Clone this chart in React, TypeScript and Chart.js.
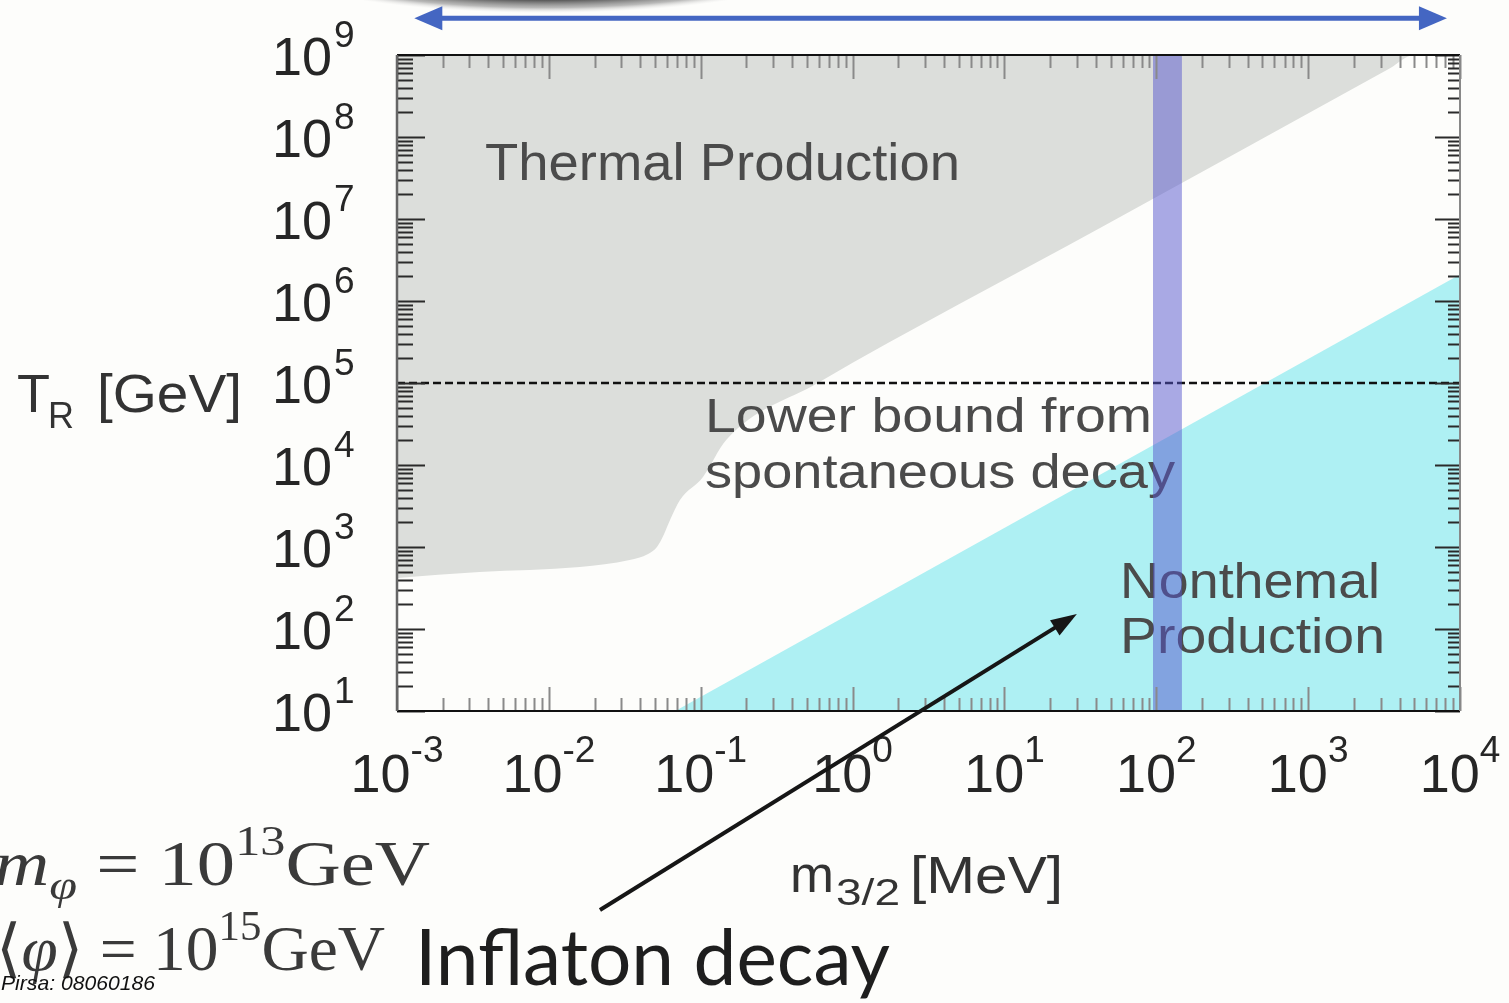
import React, { useEffect, useRef } from 'react';
import { Chart, registerables } from 'chart.js';

Chart.register(...registerables);

// ---- axis ranges & ticks ----
const massRange = [1e-3, 1e4];
const tempRange = [1e1, 1e9];
const xTickExponents = [-3, -2, -1, 0, 1, 2, 3, 4];
const yTickExponents = [1, 2, 3, 4, 5, 6, 7, 8, 9];

// ---- thermal production: lower edge of the gray region (filled up to the top) ----
const thermalMass = [0.001, 0.0035, 0.016, 0.034, 0.045, 0.0515, 0.057, 0.0628, 0.073, 0.1035, 0.147, 0.59, 42.6, 3460, 4980, 10000];
const thermalTemp = [420, 495, 570, 693, 820, 1000, 1400, 2130, 3740, 7150, 20200, 1e5, 7.76e6, 6.9e8, 1e9, 1e9];

// ---- nonthermal production: upper edge of the cyan region (filled down to the bottom) ----
const nonthermalMass = [0.068, 1e4];
const nonthermalTemp = [10, 2.1e6];

// ---- lower bound from spontaneous decay ----
const lowerBoundMass = [1e-3, 1e4];
const lowerBoundTemp = [1e5, 1e5];

// ---- vertical band ----
const bandMass = [95, 95, 147.5, 147.5];
const bandTemp = [10, 1e9, 1e9, 10];

// ---- annotation arrows (data coordinates) ----
const inflatonArrowMass = [0.0217, 30];
const inflatonArrowTemp = [0.0374, 152];
const rangeArrowMass = [1.3e-3, 8.2e3];
const rangeArrowTemp = [2.8e9, 2.8e9];

const SANS = '"Liberation Sans", Arial, sans-serif';
const SERIF = '"Liberation Serif", "DejaVu Serif", serif';

const pts = (xs: number[], ys: number[]) => xs.map((x, i) => ({ x, y: ys[i] }));

type Part = { t: string; f: string; dy?: number };

function drawParts(ctx: CanvasRenderingContext2D, parts: Part[], x: number, y: number, align: 'left' | 'right' | 'center', color: string) {
  const widths = parts.map((p) => {
    ctx.font = p.f;
    return ctx.measureText(p.t).width;
  });
  const total = widths.reduce((a, b) => a + b, 0);
  let cur = align === 'left' ? x : align === 'right' ? x - total : x - total / 2;
  ctx.fillStyle = color;
  ctx.textAlign = 'left';
  ctx.textBaseline = 'alphabetic';
  parts.forEach((p, i) => {
    ctx.font = p.f;
    ctx.fillText(p.t, cur, y + (p.dy || 0));
    cur += widths[i];
  });
}

function fitParts(ctx: CanvasRenderingContext2D, parts: Part[], x0: number, x1: number, y: number, color: string) {
  const widths = parts.map((p) => {
    ctx.font = p.f;
    return ctx.measureText(p.t).width;
  });
  const total = widths.reduce((a, b) => a + b, 0);
  ctx.save();
  ctx.translate(x0, y);
  ctx.scale((x1 - x0) / total, 1);
  drawParts(ctx, parts, 0, 0, 'left', color);
  ctx.restore();
}

function fitText(ctx: CanvasRenderingContext2D, text: string, x: number, y: number, width: number, font: string, color: string) {
  ctx.save();
  ctx.font = font;
  ctx.textAlign = 'left';
  ctx.textBaseline = 'alphabetic';
  const w = ctx.measureText(text).width;
  ctx.translate(x, y);
  ctx.scale(width / w, 1);
  ctx.fillStyle = color;
  ctx.fillText(text, 0, 0);
  ctx.restore();
}

function arrowHead(ctx: CanvasRenderingContext2D, x0: number, y0: number, x1: number, y1: number, len: number, half: number) {
  const a = Math.atan2(y1 - y0, x1 - x0);
  const bx = x1 - len * Math.cos(a);
  const by = y1 - len * Math.sin(a);
  ctx.beginPath();
  ctx.moveTo(x1, y1);
  ctx.lineTo(bx + half * Math.sin(a), by - half * Math.cos(a));
  ctx.lineTo(bx - half * Math.sin(a), by + half * Math.cos(a));
  ctx.closePath();
  ctx.fill();
}

const decorPlugin = {
  id: 'decor',
  beforeDraw(chart: any) {
    const ctx = chart.ctx as CanvasRenderingContext2D;
    ctx.save();
    ctx.fillStyle = '#fdfdfb';
    ctx.fillRect(0, 0, chart.width, chart.height);
    // dark smudge at the top edge
    ctx.translate(545, -32);
    ctx.scale(1, 0.17);
    const g = ctx.createRadialGradient(0, 0, 0, 0, 0, 265);
    g.addColorStop(0, 'rgba(40,40,40,1)');
    g.addColorStop(0.7, 'rgba(70,70,70,0.95)');
    g.addColorStop(0.88, 'rgba(140,140,140,0.6)');
    g.addColorStop(1, 'rgba(220,220,220,0)');
    ctx.fillStyle = g;
    ctx.beginPath();
    ctx.arc(0, 0, 265, 0, Math.PI * 2);
    ctx.fill();
    ctx.restore();
  },
  afterDatasetDraw(chart: any, args: any) {
    if (args.index !== 2) return;
    const ctx = chart.ctx as CanvasRenderingContext2D;
    const col = '#4b4b4b';
    fitText(ctx, 'Thermal Production', 485, 180, 475, `52px ${SANS}`, col);
    fitText(ctx, 'Lower bound from', 705, 432, 447, `49px ${SANS}`, col);
    fitText(ctx, 'spontaneous decay', 705, 488, 470, `49px ${SANS}`, col);
    fitText(ctx, 'Nonthemal', 1120, 598, 260, `50px ${SANS}`, col);
    fitText(ctx, 'Production', 1120, 653, 265, `50px ${SANS}`, col);
  },
  afterDraw(chart: any) {
    const ctx = chart.ctx as CanvasRenderingContext2D;
    const xs = chart.scales.x;
    const ys = chart.scales.y;
    const { left, right, top, bottom } = chart.chartArea;
    ctx.save();

    // ticks (inward)
    ctx.lineWidth = 2;
    for (const e of xTickExponents) {
      for (let k = 1; k <= 9; k++) {
        const v = k * Math.pow(10, e);
        if (v > massRange[1] * 1.0001) break;
        const x = Math.round(xs.getPixelForValue(v)) + 0.5;
        const len = k === 1 ? 24 : 13;
        ctx.strokeStyle = '#8a8a8a';
        ctx.beginPath();
        ctx.moveTo(x, bottom);
        ctx.lineTo(x, bottom - len);
        ctx.moveTo(x, top);
        ctx.lineTo(x, top + len);
        ctx.stroke();
      }
    }
    for (const e of yTickExponents) {
      for (let k = 1; k <= 9; k++) {
        const v = k * Math.pow(10, e);
        if (v > tempRange[1] * 1.0001) break;
        const y = Math.round(ys.getPixelForValue(v)) + 0.5;
        ctx.strokeStyle = '#2a2a2a';
        ctx.beginPath();
        ctx.moveTo(left, y);
        ctx.lineTo(left + (k === 1 ? 28 : 16), y);
        ctx.moveTo(right, y);
        ctx.lineTo(right - (k === 1 ? 25 : 12), y);
        ctx.stroke();
      }
    }

    // frame
    ctx.strokeStyle = '#111';
    ctx.lineWidth = 2;
    ctx.beginPath();
    ctx.moveTo(left, top);
    ctx.lineTo(right, top);
    ctx.moveTo(left, bottom);
    ctx.lineTo(right, bottom);
    ctx.stroke();
    ctx.strokeStyle = '#666';
    ctx.lineWidth = 2.5;
    ctx.beginPath();
    ctx.moveTo(left, top);
    ctx.lineTo(left, bottom);
    ctx.stroke();
    ctx.strokeStyle = '#888';
    ctx.lineWidth = 2;
    ctx.beginPath();
    ctx.moveTo(right, top);
    ctx.lineTo(right, bottom);
    ctx.stroke();

    // tick labels
    const labCol = '#262626';
    for (const e of yTickExponents) {
      const y = ys.getPixelForValue(Math.pow(10, e));
      ctx.font = `54px ${SANS}`;
      ctx.fillStyle = labCol;
      ctx.textAlign = 'right';
      ctx.textBaseline = 'alphabetic';
      ctx.fillText('10', 332, y + 20);
      ctx.font = `37px ${SANS}`;
      ctx.textAlign = 'left';
      ctx.fillText(String(e), 334, y - 8);
    }
    for (const e of xTickExponents) {
      const x = xs.getPixelForValue(Math.pow(10, e));
      drawParts(ctx, [
        { t: '10', f: `54px ${SANS}` },
        { t: String(e), f: `37px ${SANS}`, dy: -30 },
      ], x, 792, 'center', labCol);
    }

    // axis titles
    const titleCol = '#333';
    ctx.font = `54px ${SANS}`;
    ctx.fillStyle = titleCol;
    ctx.textAlign = 'left';
    ctx.fillText('T', 17, 412);
    ctx.font = `36px ${SANS}`;
    ctx.fillText('R', 48, 428);
    fitText(ctx, '[GeV]', 97, 412, 145, `54px ${SANS}`, titleCol);

    fitText(ctx, 'm', 790, 892, 44, `52px ${SANS}`, titleCol);
    fitText(ctx, '3/2', 836, 905, 64, `36px ${SANS}`, titleCol);
    fitText(ctx, '[MeV]', 910, 893, 153, `52px ${SANS}`, titleCol);

    // blue range arrow at the top
    const ax0 = xs.getPixelForValue(rangeArrowMass[0]);
    const ax1 = xs.getPixelForValue(rangeArrowMass[1]);
    const ay = ys.getPixelForValue(rangeArrowTemp[0]);
    ctx.strokeStyle = '#4466c2';
    ctx.fillStyle = '#4466c2';
    ctx.lineWidth = 5;
    ctx.beginPath();
    ctx.moveTo(ax0 + 15, ay);
    ctx.lineTo(ax1 - 15, ay);
    ctx.stroke();
    arrowHead(ctx, ax1, ay, ax0, ay, 28, 12);
    arrowHead(ctx, ax0, ay, ax1, ay, 28, 12);

    // black inflaton arrow
    const bx0 = xs.getPixelForValue(inflatonArrowMass[0]);
    const by0 = ys.getPixelForValue(inflatonArrowTemp[0]);
    const bx1 = xs.getPixelForValue(inflatonArrowMass[1]);
    const by1 = ys.getPixelForValue(inflatonArrowTemp[1]);
    ctx.strokeStyle = '#161616';
    ctx.fillStyle = '#161616';
    ctx.lineWidth = 4;
    const ang = Math.atan2(by1 - by0, bx1 - bx0);
    ctx.beginPath();
    ctx.moveTo(bx0, by0);
    ctx.lineTo(bx1 - 20 * Math.cos(ang), by1 - 20 * Math.sin(ang));
    ctx.stroke();
    arrowHead(ctx, bx0, by0, bx1, by1, 26, 9);

    // formulas
    const fCol = '#3a3a3a';
    fitParts(ctx, [
      { t: 'm', f: `italic 64px ${SERIF}` },
      { t: 'φ', f: `italic 42px ${SERIF}`, dy: 14 },
      { t: ' = 10', f: `64px ${SERIF}` },
      { t: '13', f: `42px ${SERIF}`, dy: -30 },
      { t: 'GeV', f: `64px ${SERIF}` },
    ], -6, 430, 885, fCol);
    fitParts(ctx, [
      { t: '⟨', f: `64px ${SERIF}` },
      { t: 'φ', f: `italic 64px ${SERIF}` },
      { t: '⟩', f: `64px ${SERIF}` },
      { t: ' = 10', f: `64px ${SERIF}` },
      { t: '15', f: `42px ${SERIF}`, dy: -30 },
      { t: 'GeV', f: `64px ${SERIF}` },
    ], -4, 385, 970, fCol);

    fitText(ctx, 'Inflaton decay', 415, 985, 475, `78px Lato, ${SANS}`, '#1e1e1e');
    fitText(ctx, 'Pirsa: 08060186', 1, 990, 154, `italic 21px ${SANS}`, '#111');

    ctx.restore();
  },
};

export default function App() {
  const ref = useRef<HTMLCanvasElement | null>(null);
  useEffect(() => {
    document.body.style.margin = '0';
    document.body.style.background = '#fdfdfb';
    const canvas = ref.current;
    if (!canvas) return;
    const chart = new Chart(canvas, {
      type: 'line',
      data: {
        datasets: [
          {
            label: 'Thermal Production',
            data: pts(thermalMass, thermalTemp),
            fill: 'end',
            backgroundColor: '#dcdedb',
            borderWidth: 0,
            borderColor: 'rgba(0,0,0,0)',
            pointRadius: 0,
            cubicInterpolationMode: 'monotone',
            order: 4,
          },
          {
            label: 'Nonthermal Production',
            data: pts(nonthermalMass, nonthermalTemp),
            fill: 'start',
            backgroundColor: '#aef0f3',
            borderWidth: 0,
            borderColor: 'rgba(0,0,0,0)',
            pointRadius: 0,
            order: 3,
          },
          {
            label: 'Lower bound from spontaneous decay',
            data: pts(lowerBoundMass, lowerBoundTemp),
            fill: false,
            borderColor: '#111',
            borderWidth: 2.5,
            borderDash: [8, 4],
            pointRadius: 0,
            order: 2,
          },
          {
            label: 'band',
            data: pts(bandMass, bandTemp),
            fill: 'start',
            backgroundColor: 'rgba(85,85,205,0.5)',
            borderWidth: 0,
            borderColor: 'rgba(0,0,0,0)',
            pointRadius: 0,
            order: 1,
          },
        ],
      },
      options: {
        animation: false,
        responsive: false,
        devicePixelRatio: 1,
        layout: { padding: { left: 0, top: 55, right: 49, bottom: 0 } },
        plugins: { legend: { display: false }, tooltip: { enabled: false } },
        events: [],
        scales: {
          x: {
            type: 'logarithmic',
            min: massRange[0],
            max: massRange[1],
            grid: { display: false, drawTicks: false },
            border: { display: false },
            ticks: { display: false },
            afterFit: (s: any) => { s.height = 292; },
          },
          y: {
            type: 'logarithmic',
            min: tempRange[0],
            max: tempRange[1],
            grid: { display: false, drawTicks: false },
            border: { display: false },
            ticks: { display: false },
            afterFit: (s: any) => { s.width = 397; },
          },
        },
      } as any,
      plugins: [decorPlugin],
    });
    return () => chart.destroy();
  }, []);
  return <canvas ref={ref} width={1509} height={1003} style={{ display: 'block' }} />;
}
